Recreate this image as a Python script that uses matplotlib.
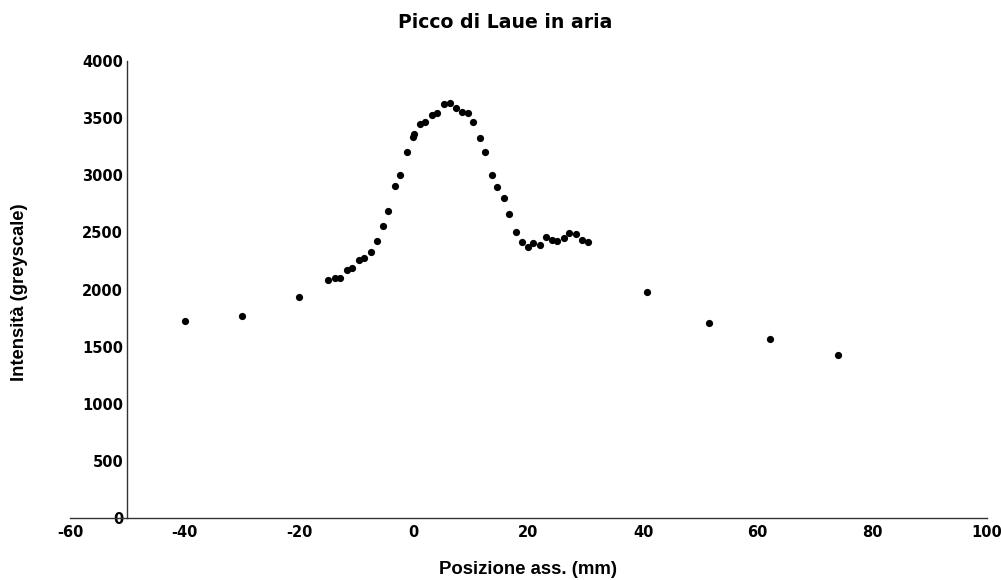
import matplotlib
matplotlib.use("Agg")
import matplotlib.pyplot as plt

plt.rcParams["axes.unicode_minus"] = False

# Data
positions = [-40.0, -30.0, -20.0,
             -15.0, -13.8, -12.9, -11.6, -10.8, -9.5, -8.7, -7.5, -6.5, -5.35,
             -4.5, -3.3, -2.45, -1.2, -0.2, 0.0, 1.05, 2.0, 3.2, 4.1, 5.2, 6.3,
             7.3, 8.4, 9.5, 10.35, 11.5, 12.4, 13.6, 14.5, 15.75, 16.6, 17.9,
             18.8, 19.9, 20.8, 22.0, 23.0, 24.1, 25.0, 26.2, 27.1, 28.3, 29.25,
             30.4,
             40.7, 51.5, 62.1, 74.0]
intensity = [1724, 1768, 1934,
             2083, 2098, 2103, 2170, 2185, 2258, 2278, 2331, 2424, 2558,
             2687, 2909, 3002, 3200, 3337, 3358, 3448, 3469, 3527, 3548, 3621, 3630,
             3592, 3554, 3548, 3469, 3323, 3200, 3002, 2894, 2798, 2658, 2500,
             2418, 2375, 2404, 2390, 2456, 2433, 2424, 2453, 2492, 2486, 2433,
             2416,
             1981, 1704, 1564, 1427]

x_ticks = [-60, -40, -20, 0, 20, 40, 60, 80, 100]
y_ticks = [0, 500, 1000, 1500, 2000, 2500, 3000, 3500, 4000]

title = "Picco di Laue in aria"
xlabel = "Posizione ass. (mm)"
ylabel = "Intensità (greyscale)"

W, H = 1001, 580
fig = plt.figure(figsize=(W / 100, H / 100), dpi=100)
left, right, top, bottom = 70, 987, 61, 518
ax = fig.add_axes([left / W, (H - bottom) / H, (right - left) / W, (bottom - top) / H])

ax.plot(positions, intensity, linestyle="none", marker="o", markersize=5.2,
        color="black", markeredgewidth=0)

ax.set_xlim(-60, 100)
ax.set_ylim(0, 4000)
ax.set_xticks(x_ticks)
ax.set_yticks(y_ticks)

ax.spines["top"].set_visible(False)
ax.spines["right"].set_visible(False)
ax.spines["left"].set_position(("data", -50))
for s in ("left", "bottom"):
    ax.spines[s].set_color("#333333")
    ax.spines[s].set_linewidth(1.0)

ax.tick_params(axis="both", length=0)
ax.tick_params(axis="y", pad=3)
ax.tick_params(axis="x", pad=5)
for lab in ax.get_xticklabels() + ax.get_yticklabels():
    lab.set_fontfamily("DejaVu Sans")
    lab.set_fontweight("bold")
    lab.set_fontsize(10.5)

fig.text(505 / W, 1 - 22 / H, title, ha="center", va="center",
         fontsize=13.6, fontweight="bold", family="DejaVu Sans")
fig.text(528 / W, 1 - 569 / H, xlabel, ha="center", va="center",
         fontsize=13.4, fontweight="bold", family="Liberation Sans")
fig.text(20 / W, 1 - 292 / H, ylabel, ha="center", va="center", rotation=90,
         fontsize=13.2, fontweight="bold", family="Liberation Sans")

fig.savefig("out.png", dpi=100, facecolor="white")
